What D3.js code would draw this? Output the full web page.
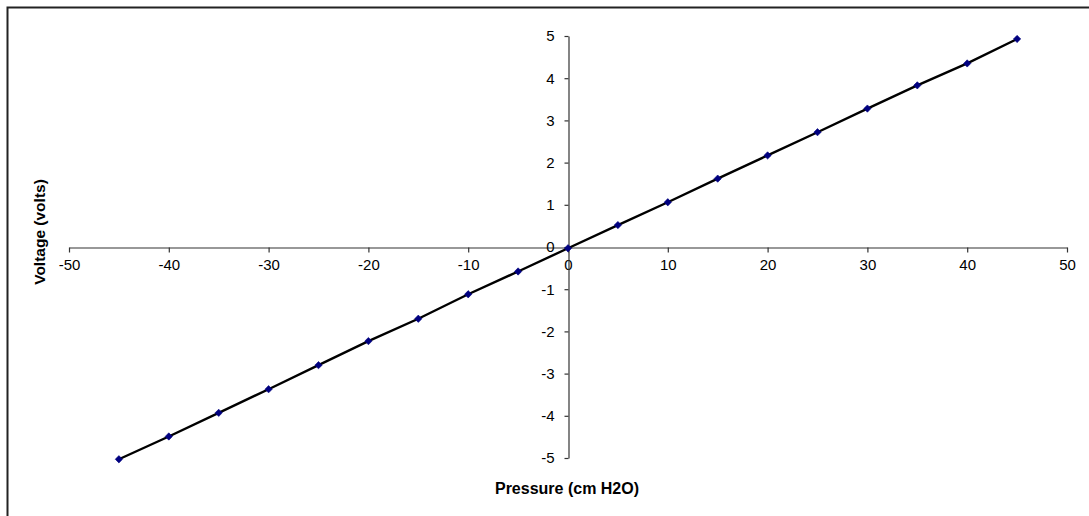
<!DOCTYPE html>
<html>
<head>
<meta charset="utf-8">
<script src="https://cdn.jsdelivr.net/npm/d3@7"></script>
<style>
  html, body { margin: 0; padding: 0; background: #fff; }
  svg { display: block; }
  text { font-family: "Liberation Sans", Arial, sans-serif; fill: #000; }
</style>
</head>
<body>
<svg id="chart" width="1089" height="516"></svg>
<script>
// Calibration of pressure transducer
const pressure = [-45, -40, -35, -30, -25, -20, -15, -10, -5, 0, 5, 10, 15, 20, 25, 30, 35, 40, 45];
const voltage  = [-5.03, -4.49, -3.93, -3.37, -2.80, -2.23, -1.70, -1.12, -0.58, -0.03, 0.52, 1.06, 1.62, 2.17, 2.72, 3.28, 3.83, 4.35, 4.93];
const xTicks = [-50, -40, -30, -20, -10, 0, 10, 20, 30, 40, 50];
const yTicks = [-5, -4, -3, -2, -1, 0, 1, 2, 3, 4, 5];

const svg = d3.select("#chart");

// Outer chart frame
svg.append("rect")
  .attr("x", 7.5).attr("y", 7.5)
  .attr("width", 1100).attr("height", 540)
  .attr("fill", "none").attr("stroke", "#222").attr("stroke-width", 2);

const x = d3.scaleLinear().domain([-50, 50]).range([69, 1067]);
const y = d3.scaleLinear().domain([-5, 5]).range([458, 36]);

// Horizontal axis crossing at zero volts
const gx = svg.append("g")
  .attr("transform", `translate(0,${Math.round(y(0)) + 0.5})`)
  .call(d3.axisBottom(x).tickValues(xTicks).tickSize(5).tickPadding(7).tickSizeOuter(0)
    .tickFormat(d => String(d)));

// Vertical axis crossing at zero pressure
const gy = svg.append("g")
  .attr("transform", `translate(${Math.round(x(0)) + 0.5},0)`)
  .call(d3.axisLeft(y).tickValues(yTicks).tickSize(4).tickPadding(10).tickSizeOuter(0)
    .tickFormat(d => String(d)));

[gx, gy].forEach(g => {
  g.attr("font-size", null).attr("font-family", null);
  g.select(".domain").attr("stroke", "#333").attr("stroke-width", 1.2);
  g.selectAll(".tick line").attr("stroke", "#333").attr("stroke-width", 1.2);
  g.selectAll(".tick text")
    .style("font-family", "'Liberation Sans', Arial, sans-serif")
    .style("font-size", "15px").attr("fill", "#000");
});

// Data line
const line = d3.line().x((d, i) => x(pressure[i])).y(d => y(d));
svg.append("path")
  .datum(voltage)
  .attr("d", line)
  .attr("fill", "none")
  .attr("stroke", "#000")
  .attr("stroke-width", 2.4);

// Diamond markers
const diamond = d3.symbol().type(d3.symbolDiamond2).size(34);
svg.append("g").selectAll("path")
  .data(voltage)
  .join("path")
  .attr("d", diamond)
  .attr("transform", (d, i) => `translate(${x(pressure[i])},${y(d)})`)
  .attr("fill", "#000080")
  .attr("stroke", "#000080")
  .attr("stroke-width", 0.6);

// Axis titles
svg.append("text")
  .attr("x", 567).attr("y", 494)
  .attr("text-anchor", "middle")
  .style("font-size", "16px").style("font-weight", "bold")
  .text("Pressure (cm H2O)");

svg.append("text")
  .attr("transform", "translate(45,232) rotate(-90)")
  .attr("text-anchor", "middle")
  .style("font-size", "15.5px").style("font-weight", "bold")
  .text("Voltage (volts)");
</script>
</body>
</html>
